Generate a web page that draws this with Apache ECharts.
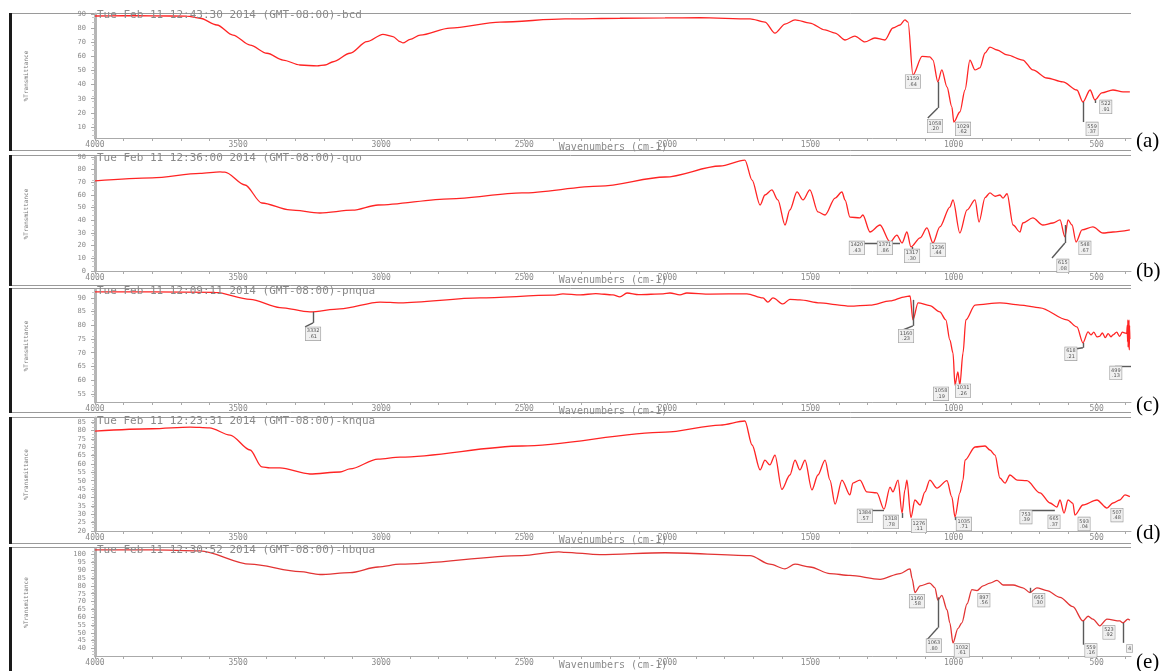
<!DOCTYPE html>
<html><head><meta charset="utf-8">
<script src="https://cdn.jsdelivr.net/npm/echarts@6/dist/echarts.min.js"></script>
<style>html,body{margin:0;padding:0;background:#fff}#c{width:1164px;height:671px}</style>
</head><body><div id="c"></div>
<script>
// ---------- data ----------
const xTickLabels = [4000,3500,3000,2500,2000,1500,1000,500];
const xTicks = [4000,3900,3800,3700,3600,3500,3400,3300,3200,3100,3000,2900,2800,2700,2600,2500,2400,2300,2200,2100,2000,1900,1800,1700,1600,1500,1400,1300,1200,1100,1000,900,800,700,600,500,400];
const xAxisName = 'Wavenumbers (cm-1)';
const yAxisName = '%Transmittance';
const panelTags = ['(a)','(b)','(c)','(d)','(e)'];
const titles = [
  'Tue Feb 11 12:43:30 2014 (GMT-08:00)-bcd',
  'Tue Feb 11 12:36:00 2014 (GMT-08:00)-quo',
  'Tue Feb 11 12:09:11 2014 (GMT-08:00)-pnqua',
  'Tue Feb 11 12:23:31 2014 (GMT-08:00)-knqua',
  'Tue Feb 11 12:30:52 2014 (GMT-08:00)-hbqua'
];
const yTicksA = [10,20,30,40,50,60,70,80,90];
const yTicksB = [0,10,20,30,40,50,60,70,80,90];
const yTicksC = [55,60,65,70,75,80,85,90];
const yTicksD = [20,25,30,35,40,45,50,55,60,65,70,75,80,85];
const yTicksE = [40,45,50,55,60,65,70,75,80,85,90,95,100];

const spectrumA = [[4000,88.6],[3900,88.8],[3800,88.7],[3679,88.5],[3633,87],[3574,82.2],[3518,75.1],[3458,68],[3399,62.2],[3343,57.4],[3284,53.9],[3224,53.2],[3196,53.9],[3168,56.2],[3109,62.2],[3050,70.4],[2994,75.6],[2959,74],[2934,70.4],[2924,69.5],[2899,72],[2864,75],[2760,80],[2585,84.3],[2358,86.5],[2166,87],[2008,87.2],[1886,87.4],[1711,86.5],[1659,84.3],[1624,76.5],[1589,82.9],[1554,85.8],[1502,83.6],[1449,78.7],[1414,76.5],[1379,71.6],[1345,74.4],[1310,70.2],[1275,73],[1240,71.6],[1212,80.1],[1187,82.2],[1170,85.8],[1159,84.3],[1142,46.8],[1110,60],[1083,59.6],[1072,57.4],[1055,42],[1041,50.4],[1023,38.3],[1006,24.2],[999,13.5],[978,20.6],[960,36.2],[943,57.4],[925,50.4],[908,51.8],[890,62.4],[873,66.6],[848,64.5],[813,61],[758,57.4],[723,50.4],[674,44.7],[618,41.9],[569,36.2],[548,27.7],[523,36.2],[506,29.1],[482,34.1],[443,36.2],[408,34.8],[384,34.8]];
const spectrumB = [[4000,71.1],[3800,73.5],[3633,77],[3563,78.2],[3546,78],[3476,67.9],[3417,53.7],[3319,48.2],[3214,45.8],[3100,48],[3011,52.1],[2760,57],[2508,61.6],[2236,67],[2008,74.2],[1816,82.9],[1729,87.6],[1704,71.8],[1676,52.1],[1659,60],[1635,64],[1614,56.1],[1589,36.3],[1572,48.2],[1547,62.4],[1526,56.1],[1502,64],[1474,46.6],[1449,44.2],[1414,57.6],[1390,62.4],[1379,56],[1362,42.6],[1327,41.9],[1317,44.2],[1292,30.8],[1257,36.3],[1222,22.9],[1198,28.4],[1180,22.1],[1163,30.8],[1149,19],[1117,26.1],[1093,34],[1072,22.1],[1048,34.8],[1013,50.5],[1002,56.1],[978,30],[953,48.2],[925,56.1],[911,38.7],[890,58],[873,61.6],[855,59],[838,60],[827,57.6],[813,61],[792,36.3],[768,30.8],[758,37.9],[723,41.9],[688,36.3],[653,37.9],[628,40.3],[611,26.9],[600,40.3],[586,36.3],[572,22.9],[551,32.4],[513,34.8],[478,30],[443,30.8],[384,32.4]];
const spectrumC = [[4000,92.2],[3800,92.2],[3581,92],[3458,89.5],[3354,86.5],[3249,84.9],[3144,86],[3004,88.5],[2934,88.2],[2655,90],[2400,91],[2365,91.5],[2305,91.1],[2250,91.6],[2190,91.1],[2166,90.4],[2141,91.8],[2100,91.2],[2015,91.5],[1991,91.8],[1956,91.1],[1932,91.8],[1850,91.4],[1722,91.5],[1666,90],[1649,88.5],[1631,90],[1596,87.8],[1572,89.5],[1537,89.3],[1467,88.2],[1400,87.4],[1362,87],[1292,87.4],[1222,88.9],[1170,90.4],[1152,90.7],[1142,82],[1124,88.2],[1083,87.2],[1048,84.9],[1027,82],[1013,74.7],[1002,69.9],[995,58.2],[985,63],[978,58.2],[967,69.9],[957,82],[925,87.4],[838,88.2],[768,87.4],[698,86.4],[604,82],[569,79.4],[548,73.6],[530,77.6],[520,76.5],[510,77.5],[499,75.8],[490,76],[480,77.2],[470,75.5],[460,77],[450,75.8],[443,76.5],[430,77.5],[420,76],[410,77.5],[401,77.2],[395,77],[393,80],[392,74],[391,82],[390,72],[389,81],[388,73],[387,82],[386,71],[385,80],[384,75]];
const spectrumD = [[4000,79.6],[3800,81],[3668,82],[3600,81.5],[3528,77.2],[3458,68.3],[3417,58.2],[3389,57.6],[3354,57.6],[3249,54],[3144,55.2],[3109,57],[3011,62.9],[2934,64.1],[2508,70.7],[2008,79],[1816,83.2],[1729,85.6],[1704,71.3],[1676,56.4],[1659,62.3],[1642,59.4],[1624,65.3],[1600,44.8],[1572,53.4],[1554,62.3],[1537,56.4],[1519,62.3],[1495,44.5],[1474,53.4],[1449,62.3],[1432,50.4],[1414,36],[1390,50.4],[1362,41.5],[1352,48.6],[1327,50.4],[1303,43.3],[1268,42.7],[1243,33],[1222,46.2],[1212,43.3],[1194,50.4],[1180,30.7],[1170,44.5],[1163,50.4],[1149,28],[1135,38.5],[1117,35.5],[1100,43.3],[1083,50.4],[1058,45.6],[1023,50],[1006,40.3],[995,28.3],[978,42.7],[967,50.4],[960,62.3],[925,70.1],[890,70.7],[873,68.3],[855,65.3],[838,51.6],[820,48.6],[803,53.4],[778,50.4],[744,50],[698,42.7],[663,36.7],[639,34.3],[628,38.5],[614,30.7],[600,38.5],[583,36.5],[576,29.5],[548,35.5],[499,38.5],[464,33.7],[443,36.7],[419,38.5],[401,41.5],[384,40.5]];
const spectrumE = [[4000,103],[3800,103],[3633,102.4],[3458,93.9],[3284,89.1],[3214,87.3],[3109,88.5],[3011,92.1],[2934,93.9],[2508,99.4],[2380,101.8],[2358,101.5],[2236,100],[2008,101.2],[1711,99.4],[1642,93.9],[1589,90.9],[1554,93.9],[1502,92.1],[1432,87.9],[1362,86.7],[1257,84.2],[1187,87.9],[1152,90.9],[1145,84.8],[1135,75.8],[1117,80],[1083,81.8],[1065,78.8],[1055,70.9],[1041,74],[1023,64.8],[1013,56.4],[1002,43.6],[985,52.7],[971,56.4],[953,68.5],[936,77.6],[918,77],[897,80],[873,81.8],[848,83.6],[827,80.6],[792,80.6],[758,78.8],[733,75.8],[709,78.8],[674,77],[628,72.7],[583,66.7],[548,57.6],[530,60.6],[513,58.8],[489,54.5],[464,58.8],[419,57.6],[408,56.4],[391,58.8],[384,58]];

// peak labels: [wavenumber, %T, text]
const peaksA = [[1142,42.2,'1159\n.64'],[1065,10.7,'1058\n.20'],[967,8.6,'1029\n.62'],[516,8.6,'559\n.37'],[468,24.2,'522\n.91']];
const peaksB = [[1338,18.2,'1420\n.43'],[1240,18.2,'1371\n.86'],[1145,11.9,'1317\n.30'],[1055,16.6,'1236\n.44'],[618,4,'615\n.08'],[541,18.2,'548\n.67']];
const peaksC = [[3238,76.9,'3332\n.61'],[1166,76.1,'1160\n.23'],[1044,55,'1058\n.19'],[967,56.1,'1031\n.26'],[590,69.6,'618\n.21'],[433,62.6,'499\n.13']];
const peaksD = [[1310,29,'1384\n.57'],[1219,25.4,'1318\n.78'],[1121,23,'1276\n.11'],[964,24.2,'1035\n.71'],[747,28.3,'753\n.39'],[649,25.4,'665\n.37'],[544,24.2,'593\n.04'],[429,29.5,'507\n.48']];
const peaksE = [[1128,70.3,'1160\n.58'],[1069,41.8,'1063\n.80'],[971,38.8,'1032\n.61'],[894,70.9,'897\n.56'],[702,70.9,'665\n.30'],[520,38.8,'559\n.16'],[457,50.3,'523\n.92'],[385,40,'4']];
// leader segments: [w1, %T1, w2, %T2]
const leadersA = [[1055,42,1055,23.5],[1055,23.5,1090,16.4],[548,27.7,548,13.5],[506,29,506,27]];
const leadersB = [[1355,22.1,1187,22.1],[1145,19,1145,15.8],[611,36.3,611,22.1],[611,22.1,656,10.3]];
const leadersC = [[3238,84.9,3238,80.9],[3238,80.9,3266,79.4],[1142,89.3,1142,79.8],[1142,79.8,1177,78.3],[548,73.6,548,71.8],[548,71.8,600,71],[436,65.2,380,65.2]];
const leadersD = [[1334,32.5,1243,32.5],[1180,30.7,1180,27.8],[995,28.3,995,26.5],[768,32.5,646,32.5]];
const leadersE = [[1055,72.7,1055,53.3],[1055,53.3,1093,45.5],[733,78.8,733,75.8],[548,57.6,548,42.4],[408,56.4,408,43.6]];

// ---------- layout ----------
const panels = [
  {data:spectrumA, ticks:yTicksA, min:2.2, max:90, top:14, height:124, peaks:peaksA, leaders:leadersA, frame:[13,151], tagTop:131, titleTop:10, color:'#ff2424'},
  {data:spectrumB, ticks:yTicksB, min:0, max:90, top:157, height:114, peaks:peaksB, leaders:leadersB, frame:[155,286], tagTop:261, titleTop:153, color:'#ff2424'},
  {data:spectrumC, ticks:yTicksC, min:52, max:92.9, top:290, height:112, peaks:peaksC, leaders:leadersC, frame:[288,413], tagTop:395, titleTop:286, color:'#ff2424'},
  {data:spectrumD, ticks:yTicksD, min:20, max:87.4, top:418, height:113, peaks:peaksD, leaders:leadersD, frame:[417,544], tagTop:523, titleTop:416, color:'#ff2424'},
  {data:spectrumE, ticks:yTicksE, min:35.2, max:103.6, top:549, height:113, peaks:peaksE, leaders:leadersE, frame:[547,672], tagTop:652, titleTop:545, color:'#e23434'}
];

const mono = '"DejaVu Sans Mono", monospace';
const chart = echarts.init(document.getElementById('c'), null, {renderer:'canvas'});
const graphic = [];
panels.forEach((p,i) => {
  graphic.push({type:'line', shape:{x1:10,y1:p.frame[0]+0.5,x2:1131,y2:p.frame[0]+0.5}, style:{stroke:'#9a9a9a', lineWidth:1}, z:0});
  graphic.push({type:'line', shape:{x1:10,y1:p.frame[1]-0.5,x2:1131,y2:p.frame[1]-0.5}, style:{stroke:'#9a9a9a', lineWidth:1}, z:0});
  graphic.push({type:'rect', shape:{x:9,y:p.frame[0],width:3,height:p.frame[1]-p.frame[0]}, style:{fill:'#1a1a1a'}, z:0});
  graphic.push({type:'text', left:1136, top:p.tagTop, style:{text:panelTags[i], font:'21px "Liberation Serif", serif', fill:'#000'}, z:10});
});

const option = {
  animation:false,
  backgroundColor:'#fff',
  title: panels.map((p,i)=>({text:titles[i], left:97, top:p.titleTop, padding:0, textStyle:{fontSize:11, fontFamily:mono, color:'#8a8a8a', fontWeight:'normal'}})),
  grid: panels.map(p=>({left:95, width:1036, top:p.top, height:p.height, containLabel:false})),
  xAxis: panels.map((p,i)=>({
    type:'value', gridIndex:i, min:380, max:4000, inverse:true,
    axisLine:{show:true, onZero:false, lineStyle:{color:'#aaaaaa', width:1}},
    axisTick:{show:true, customValues:xTicks, length:3, lineStyle:{color:'#aaaaaa'}},
    axisLabel:{customValues:xTickLabels, formatter:v=>String(v), fontSize:8, color:'#8a8a8a', margin:3, fontFamily:mono},
    splitLine:{show:false},
    name:xAxisName, nameLocation:'middle', nameGap:4, nameMoveOverlap:false,
    nameTextStyle:{fontSize:10, color:'#8a8a8a', fontFamily:mono}
  })),
  yAxis: panels.map((p,i)=>({
    type:'value', gridIndex:i, min:p.min, max:p.max,
    axisLine:{show:true, lineStyle:{color:'#b5b5b5', width:3}},
    axisTick:{show:true, customValues:p.ticks, length:4, lineStyle:{color:'#aaaaaa'}},
    minorTick:{show:true, splitNumber:5, length:3, lineStyle:{color:'#c8c8c8'}},
    axisLabel:{customValues:p.ticks, formatter:v=>String(v), fontSize:7, color:'#8a8a8a', margin:9, fontFamily:mono},
    splitLine:{show:false},
    name:yAxisName, nameLocation:'middle', nameGap:66, nameRotate:90, nameMoveOverlap:false,
    nameTextStyle:{fontSize:6, color:'#777', fontFamily:mono}
  })),
  graphic: graphic,
  series: panels.map((p,i)=>({
    type:'line', xAxisIndex:i, yAxisIndex:i, data:p.data, symbol:'none',
    smooth:0.3, smoothMonotone:'x',
    lineStyle:{color:p.color, width:1.3}, z:3,
    markLine:{silent:true, symbol:['none','none'], animation:false,
      lineStyle:{color:'#5a5a5a', width:1.4, type:'solid'}, label:{show:false},
      emphasis:{disabled:true},
      data:p.leaders.map(l=>[{coord:[l[0],l[1]]},{coord:[l[2],l[3]]}])},
    markPoint:{silent:true, symbol:'rect', symbolSize:1, animation:false,
      itemStyle:{color:'rgba(0,0,0,0)'},
      label:{show:true, position:'inside', formatter:d=>d.data.txt, fontSize:5, lineHeight:5.5,
        color:'#555', backgroundColor:'#f0f0f0', borderColor:'#999', borderWidth:0.6, padding:[1,1], fontFamily:'"DejaVu Sans", sans-serif'},
      data:p.peaks.map(k=>({coord:[k[0],k[1]], txt:k[2]}))}
  }))
};
chart.setOption(option);
</script>
</body></html>
